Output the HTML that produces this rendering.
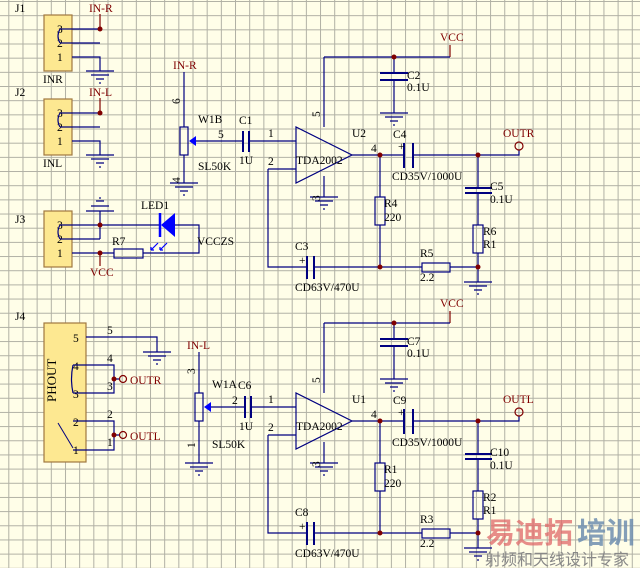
<!DOCTYPE html>
<html><head><meta charset="utf-8"><style>
html,body{margin:0;padding:0;background:#fffee8;}
svg{display:block;}
text{font-family:"Liberation Serif",serif;font-size:11.5px;fill:#000;}
.r{fill:#800000;}
.w{stroke:#000080;stroke-width:1.2;fill:none;}
.p{stroke:#000080;stroke-width:2;fill:none;}
.d{stroke:#800000;stroke-width:1.2;fill:none;}
.b{fill:#fde891;stroke:#a07840;stroke-width:1.2;}
.rs{fill:none;stroke:#000080;stroke-width:1.2;}
</style></head><body>
<svg width="640" height="568" viewBox="0 0 640 568" xmlns="http://www.w3.org/2000/svg">
<defs>
<pattern id="g" x="8.3" y="1" width="14.17" height="14.17" patternUnits="userSpaceOnUse">
<path d="M0.5 0 V14.17 M0 0.5 H14.17" stroke="#b0b0a4" stroke-width="1"/>
</pattern>
<g id="gnd"><path class="w" d="M-14 0H14M-9 4H9M-4 8H4M0 11V13"/></g>
<g id="amp">
<path class="d" d="M450 45V57"/>
<path class="w" d="M324 57H450M324 57V127M394 57V73M394 80V113"/>
<path class="p" d="M380 73H408M380 80H408"/>
<use href="#gnd" x="394" y="113"/>
<polygon points="296,127 296,183 352,155" class="w"/>
<path class="w" d="M268 169H296M268 169V267H307M314 267H422M450 267H478V282"/>
<path class="p" d="M307 256V279M314 256V279"/>
<rect class="rs" x="422" y="263" width="28" height="9"/>
<use href="#gnd" x="478" y="282"/>
<path class="w" d="M324 176V197"/>
<use href="#gnd" x="324" y="197"/>
<path class="w" d="M352 155H404M413 155H519V150"/>
<path class="p" d="M404 143V168M413 143V168"/>
<circle cx="519" cy="146" r="4" fill="none" stroke="#800000" stroke-width="1.2"/>
<path class="w" d="M380 155V197M380 225V267"/>
<rect class="rs" x="375" y="197" width="10" height="28"/>
<path class="w" d="M478 155V188M478 193V225M478 253V267"/>
<path class="p" d="M465 188H492M465 193H492"/>
<rect class="rs" x="473" y="225" width="10" height="28"/>
<g fill="#800000"><circle cx="394" cy="57" r="2.5"/><circle cx="380" cy="155" r="2.5"/><circle cx="478" cy="155" r="2.5"/><circle cx="380" cy="267" r="2.5"/><circle cx="478" cy="267" r="2.5"/></g>
<text x="398" y="150">+</text><text x="299" y="264">+</text>
<text x="440" y="41" class="r">VCC</text>
<text x="268" y="137">1</text><text x="268" y="165">2</text><text x="371" y="152">4</text>
<text x="296" y="164">TDA2002</text>
<text transform="translate(320,117) rotate(-90)">5</text>
<text transform="translate(320,201) rotate(-90)">3</text>
</g>
<g id="jin">
<rect class="b" x="44" y="15" width="28" height="56"/>
<text x="57" y="33">3</text><text x="57" y="47">2</text><text x="57" y="61">1</text>
<path class="w" d="M60 29H100M60 43H100M60 29Q56 36 60 43M72 57H100V71"/>
<use href="#gnd" x="100" y="71"/>
<circle cx="100" cy="29" r="2.5" fill="#800000"/>
<path class="d" d="M100 14V29"/>
</g>
</defs>
<rect width="640" height="568" fill="#fffee8"/>
<rect width="640" height="568" fill="url(#g)"/>

<!-- J1 J2 -->
<use href="#jin"/>
<text x="15" y="12">J1</text><text x="89" y="12" class="r">IN-R</text><text x="43" y="83">INR</text>
<use href="#jin" y="84"/>
<text x="15" y="96">J2</text><text x="89" y="96" class="r">IN-L</text><text x="43" y="167">INL</text>

<!-- J3 -->
<rect class="b" x="44" y="211" width="28" height="56"/>
<text x="57" y="229">3</text><text x="57" y="243">2</text><text x="57" y="257">1</text>
<text x="15" y="223">J3</text>
<path class="w" d="M86 211H114M91 206H109M96 201H104M100 197V199M100 211V239M60 225H160M60 239H100M60 225Q56 232 60 239M72 253H114M143 253H199V225H175"/>
<rect class="rs" x="114" y="249" width="29" height="9"/>
<polygon points="175,213 175,237 161,225" fill="#0000ff"/>
<path d="M160 213V237" stroke="#0000ff" stroke-width="2.5"/>
<path d="M158 243L151 250M151 250h3M151 250v-3M167 243L160 250M160 250h3M160 250v-3" stroke="#0000ff" stroke-width="1.2"/>
<circle cx="100" cy="225" r="2.5" fill="#800000"/><circle cx="100" cy="253" r="2.5" fill="#800000"/>
<path class="d" d="M100 253V266"/>
<text x="90" y="276" class="r">VCC</text>
<text x="141" y="209">LED1</text><text x="112" y="245">R7</text><text x="197" y="245">VCCZS</text>

<!-- W1B -->
<text x="173" y="69" class="r">IN-R</text>
<path class="w" d="M184 72V127M184 155V183M195 141H243M249 141H296"/>
<rect class="rs" x="180" y="127" width="8" height="28"/>
<polygon points="189,141 196,136 196,146" fill="#0000ff"/>
<use href="#gnd" x="184" y="183"/>
<path class="p" d="M243 131V152M249 131V152"/>
<text transform="translate(180,104) rotate(-90)">6</text>
<text transform="translate(180,183) rotate(-90)">4</text>
<text x="198" y="123">W1B</text><text x="218" y="138">5</text><text x="239" y="124">C1</text><text x="239" y="164">1U</text><text x="198" y="170">SL50K</text>

<!-- top amp -->
<use href="#amp"/>
<text x="352" y="137">U2</text>
<text x="407" y="79">C2</text><text x="407" y="91">0.1U</text>
<text x="393" y="138">C4</text><text x="392" y="180">CD35V/1000U</text>
<text x="490" y="190">C5</text><text x="490" y="203">0.1U</text>
<text x="384" y="207">R4</text><text x="384" y="221">220</text>
<text x="483" y="235">R6</text><text x="483" y="248">R1</text>
<text x="295" y="250">C3</text><text x="295" y="291">CD63V/470U</text>
<text x="420" y="257">R5</text><text x="420" y="281">2.2</text>
<text x="503" y="137" class="r">OUTR</text>

<!-- bottom amp -->
<use href="#amp" y="266"/>
<text x="352" y="403">U1</text>
<text x="407" y="345">C7</text><text x="407" y="357">0.1U</text>
<text x="393" y="404">C9</text><text x="392" y="446">CD35V/1000U</text>
<text x="490" y="456">C10</text><text x="490" y="469">0.1U</text>
<text x="384" y="473">R1</text><text x="384" y="487">220</text>
<text x="483" y="501">R2</text><text x="483" y="514">R1</text>
<text x="295" y="516">C8</text><text x="295" y="557">CD63V/470U</text>
<text x="420" y="523">R3</text><text x="420" y="547">2.2</text>
<text x="503" y="403" class="r">OUTL</text>

<!-- W1A -->
<text x="187" y="349" class="r">IN-L</text>
<path class="w" d="M199 352V393M199 421V463M210 407H245M251 407H296"/>
<rect class="rs" x="195" y="393" width="8" height="28"/>
<polygon points="204,407 211,402 211,412" fill="#0000ff"/>
<use href="#gnd" x="199" y="463"/>
<path class="p" d="M245 396V418M251 396V418"/>
<text transform="translate(195,374) rotate(-90)">3</text>
<text transform="translate(195,448) rotate(-90)">1</text>
<text x="212" y="388">W1A</text><text x="238" y="389">C6</text><text x="232" y="404">2</text><text x="239" y="430">1U</text><text x="212" y="448">SL50K</text>

<!-- J4 -->
<rect class="b" x="44" y="323" width="42" height="139"/>
<text x="15" y="320">J4</text>
<text transform="translate(56,402) rotate(-90)" style="font-size:13px">PHOUT</text>
<text x="73" y="342">5</text><text x="73" y="370">4</text><text x="73" y="398">3</text><text x="73" y="426">2</text><text x="73" y="454">1</text>
<path class="w" d="M86 337H157V352M73 365H114V393H73M73 365Q70 379 73 393M73 421H114V450H73M114 379H119M114 435H119"/>
<path d="M58 423L73 448" stroke="#000080" stroke-width="1"/>
<use href="#gnd" x="157" y="352"/>
<circle cx="114" cy="379" r="2.5" fill="#800000"/><circle cx="114" cy="435" r="2.5" fill="#800000"/>
<circle cx="123" cy="379" r="3.5" fill="none" stroke="#800000" stroke-width="1.2"/>
<circle cx="123" cy="435" r="3.5" fill="none" stroke="#800000" stroke-width="1.2"/>
<text x="130" y="384" class="r">OUTR</text><text x="130" y="440" class="r">OUTL</text>
<text x="107" y="334">5</text><text x="107" y="362">4</text><text x="107" y="390">3</text><text x="107" y="418">2</text><text x="107" y="446">1</text>

<!-- watermark -->
<text x="486" y="543" style="font-family:'Liberation Sans','Noto Sans CJK SC',sans-serif;font-size:29px;font-weight:bold;fill:#e06868;opacity:.75">易迪拓</text>
<text x="577" y="543" style="font-family:'Liberation Sans','Noto Sans CJK SC',sans-serif;font-size:29px;font-weight:bold;fill:#6f8fb0;opacity:.85">培训</text>
<text x="485" y="565" style="font-family:'Liberation Sans','Noto Sans CJK SC',sans-serif;font-size:16px;fill:#888">射频和天线设计专家</text>
</svg>
</body></html>
